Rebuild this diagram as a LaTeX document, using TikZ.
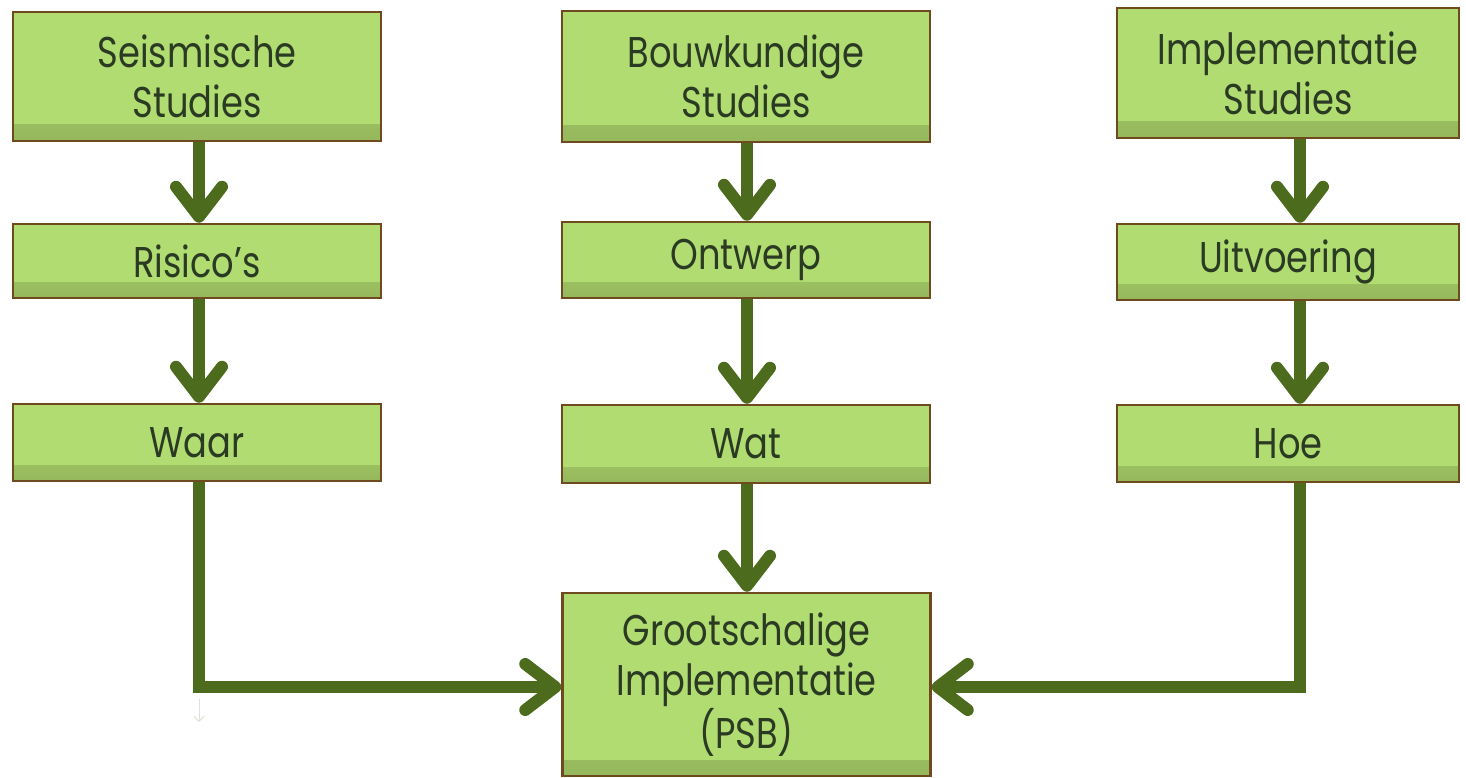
\documentclass[tikz,border=0pt]{standalone}
\usepackage{fontspec}
\setmainfont{Poppins}[FakeStretch=0.82]
\usetikzlibrary{arrows.meta}
\definecolor{boxfill}{HTML}{B0DC72}
\definecolor{boxdark}{HTML}{95B85C}
\definecolor{boxline}{HTML}{6E4A1E}
\definecolor{arr}{HTML}{4C6B1C}
\definecolor{txt}{HTML}{2B3A22}
\definecolor{faint}{HTML}{DDE2D6}
\begin{document}
\begin{tikzpicture}[x=1pt,y=-1pt,
  box/.style={draw=boxline, line width=2.5pt, fill=boxfill, align=center,
    font=\fontsize{43}{50}\selectfont, text=txt, inner sep=0pt,
    path picture={\shade[top color=boxfill, bottom color=boxdark]
      ([yshift=16pt]path picture bounding box.south west) rectangle (path picture bounding box.south east);}},
  colA/.style={box, minimum width=368pt},
  colC/.style={box, minimum width=342pt},
  conn/.style={draw=arr, line width=12pt, line join=miter,
    -{Straight Barb[length=30pt,width=46pt,round]}},
]
\useasboundingbox (0,0) rectangle (1466,778);
% column 1
\node[colA, minimum height=129pt] (seis) at (197,76.5) {Seismische\\Studies};
\node[colA, minimum height=74pt] (ris) at (197,261) {Risico’s};
\node[colA, minimum height=77pt] (waar) at (197,442.5) {Waar};
% column 2
\node[colA, minimum height=131pt] (bouw) at (746,76.5) {Bouwkundige\\Studies};
\node[colA, minimum height=76pt] (ontw) at (746,260) {Ontwerp};
\node[colA, minimum height=78pt] (wat) at (746,444) {Wat};
\node[colA, minimum height=183pt] (groot) at (746.5,684.5) {Grootschalige\\Implementatie\\(PSB)};
% column 3
\node[colC, minimum height=130pt] (impl) at (1288,73) {Implementatie\\Studies};
\node[colC, minimum height=76pt] (uitv) at (1288,262) {Uitvoering};
\node[colC, minimum height=77pt] (hoe) at (1288,443.5) {Hoe};
% guide coordinates
\coordinate (x1) at (199,0);
\coordinate (x2) at (747,0);
\coordinate (x3) at (1300,0);
\coordinate (yh) at (0,687);
\coordinate (f1) at (199,699);
\coordinate (f2) at (199,722);
% connectors
\draw[conn] (seis.south -| x1) -- (ris.north -| x1);
\draw[conn] (ris.south -| x1) -- (waar.north -| x1);
\draw[conn] (bouw.south -| x2) -- (ontw.north -| x2);
\draw[conn] (ontw.south -| x2) -- (wat.north -| x2);
\draw[conn] (wat.south -| x2) -- (groot.north -| x2);
\draw[conn] (impl.south -| x3) -- (uitv.north -| x3);
\draw[conn] (uitv.south -| x3) -- (hoe.north -| x3);
\draw[conn] (waar.south -| x1) |- (groot.west |- yh);
\draw[conn] (hoe.south -| x3) |- (groot.east |- yh);
\draw[faint, line width=1pt, -{Straight Barb[length=5pt,width=10pt]}] (f1) -- (f2);
\end{tikzpicture}
\end{document}
